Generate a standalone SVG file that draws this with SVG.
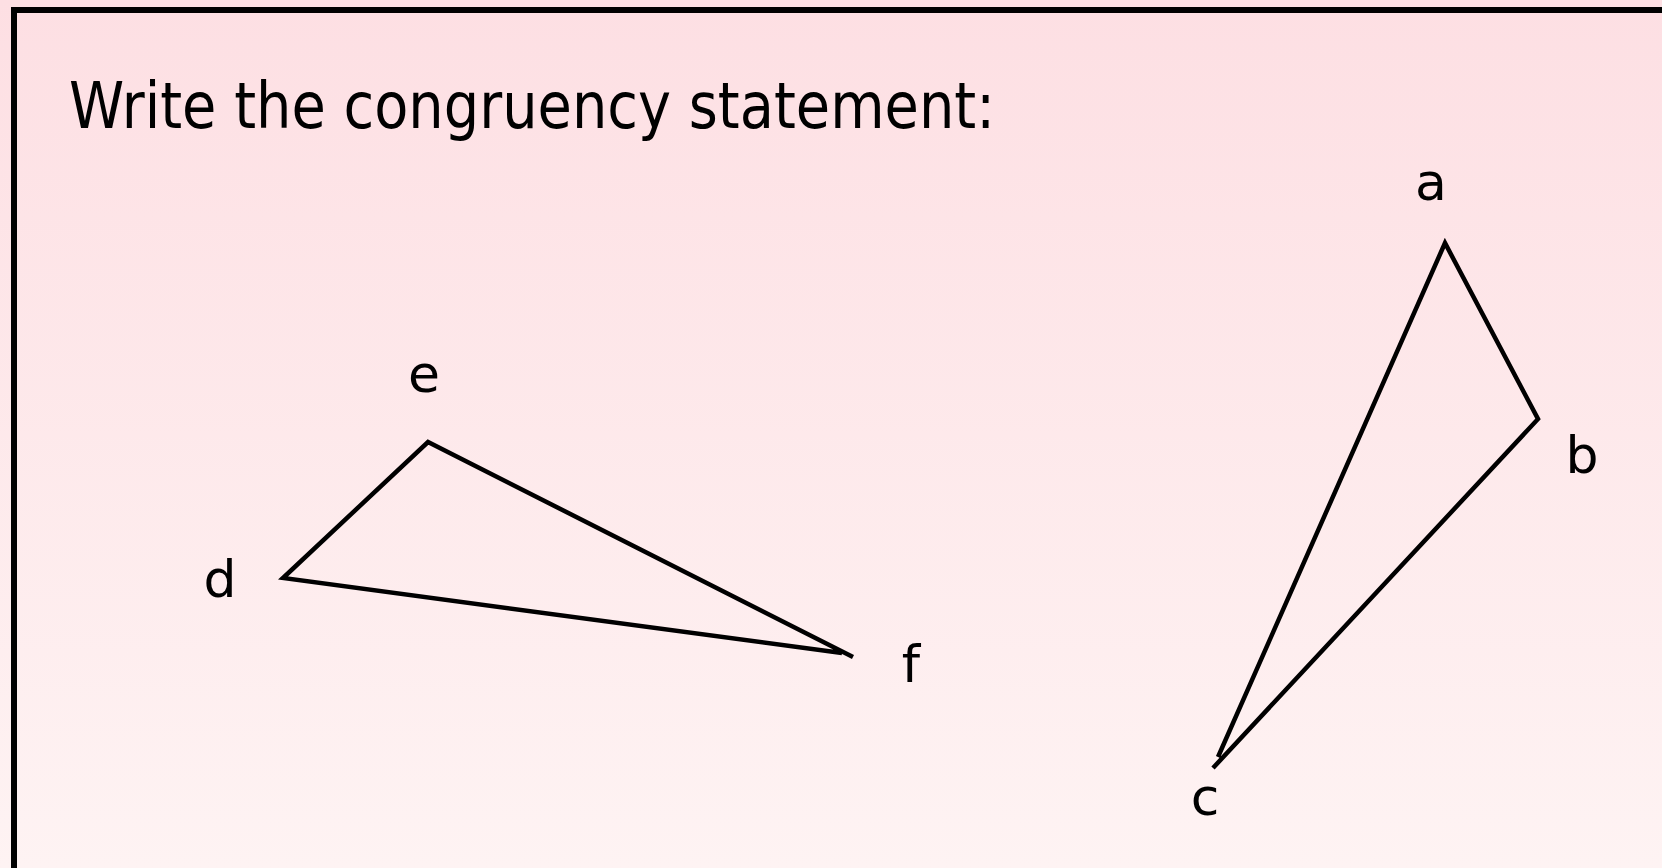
<svg xmlns="http://www.w3.org/2000/svg" width="1662" height="868" viewBox="0 0 1662 868">
  <defs>
    <linearGradient id="bg" x1="0" y1="0" x2="0" y2="1">
      <stop offset="0" stop-color="#fddfe3"/>
      <stop offset="1" stop-color="#fef3f3"/>
    </linearGradient>
    <style>
      .lbl { font-family: "DejaVu Sans", "Noto Sans", sans-serif; font-size: 52px; fill: #000; text-anchor: middle; }
      .title { font-family: "DejaVu Sans", "Noto Sans", sans-serif; font-size: 64px; fill: #000; }
      .edge { fill: none; stroke: #000; stroke-width: 4.5; stroke-linejoin: miter; stroke-linecap: butt; }
    </style>
  </defs>
  <rect x="0" y="0" width="1662" height="868" fill="url(#bg)"/>
  <rect x="14" y="10" width="1670" height="880" fill="none" stroke="#000" stroke-width="6"/>
  <text class="title" x="69" y="128" textLength="926" lengthAdjust="spacingAndGlyphs">Write the congruency statement:</text>
  <g id="connectors">
    <polyline id="tri-def" class="edge" points="842,653 283,578 428,442 853,657"/>
    <polyline id="tri-abc" class="edge" points="1218,757 1445,243 1538,419 1213,768"/>
  </g>
  <g id="node-a"><text class="lbl" x="1431" y="200">a</text></g>
  <g id="node-b"><text class="lbl" x="1582" y="473">b</text></g>
  <g id="node-c"><text class="lbl" x="1205" y="815">c</text></g>
  <g id="node-d"><text class="lbl" x="220" y="597">d</text></g>
  <g id="node-e"><text class="lbl" x="424" y="392">e</text></g>
  <g id="node-f"><text class="lbl" x="911" y="682">f</text></g>
</svg>
